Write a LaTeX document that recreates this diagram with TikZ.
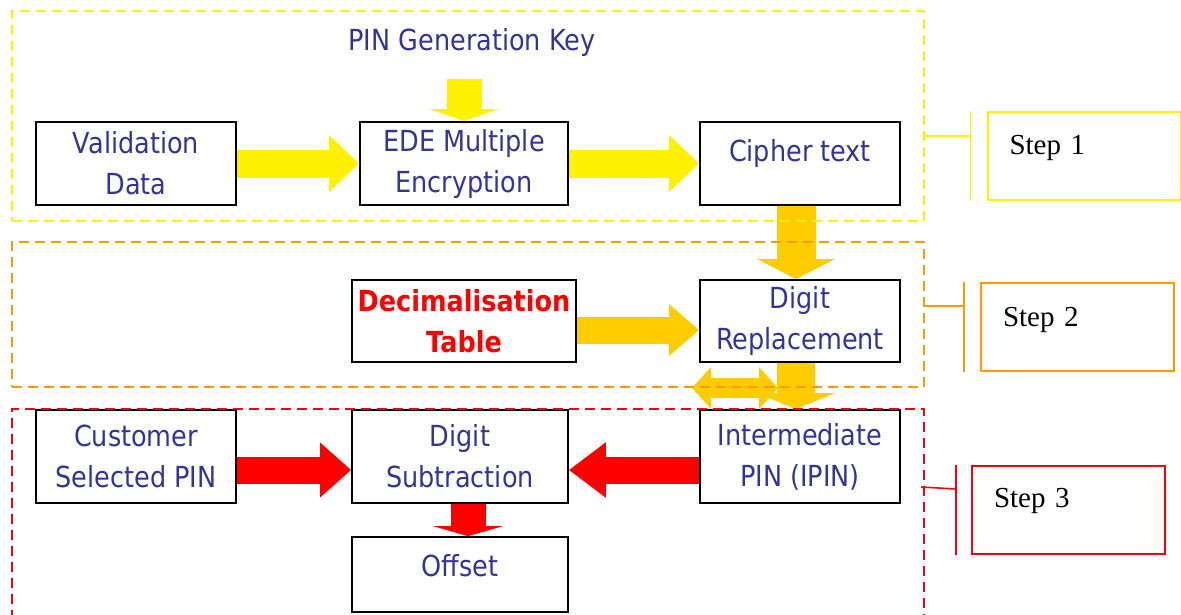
\documentclass[tikz,border=0pt]{standalone}
\usepackage{fontspec}
\setmainfont{Liberation Serif}
\newfontfamily\boxfont[FakeStretch=0.88]{DejaVu Sans}
\usetikzlibrary{arrows.meta}
\definecolor{boxblue}{RGB}{51,51,153}
\definecolor{gold}{RGB}{255,204,0}
\definecolor{orangeline}{RGB}{255,153,0}

\begin{document}
\begin{tikzpicture}[
    x=1pt, y=-1pt,
    font=\boxfont\fontsize{29}{41}\selectfont,
    box/.style={rectangle, draw, line width=1.8pt, text=boxblue, align=center, inner sep=0pt, minimum width=200pt},
    frame/.style={rectangle, draw=#1, line width=2.4pt, dash pattern=on 10pt off 6pt, inner sep=0pt, minimum width=912pt},
    steplabel/.style={rectangle, draw=#1, line width=2pt, inner sep=0pt, minimum width=193pt, minimum height=88pt,
        text width=149pt, align=left, font=\rmfamily\fontsize{29}{34}\selectfont},
    tick/.style={draw=#1, line width=1.6pt},
    fat/.style n args={4}{draw=#1, line width=#2, -{Triangle[length=#3, width=#4]}},
    dfat/.style n args={4}{draw=#1, line width=#2, {Triangle[length=#3, width=#4]}-{Triangle[length=#3, width=#4]}}
  ]
  \useasboundingbox (0,0) rectangle (1181,614);

  % step 1
  \node[text=boxblue] (key) at (472,42) {PIN Generation Key};
  \node[box, minimum height=83pt] (val) at (136,163.5) {Validation\\Data};
  \node[box, minimum width=208pt, minimum height=83pt] (ede) at (464,163.5) {EDE Multiple\\Encryption};
  \node[box, minimum height=83pt] (cipher) at (800,163.5) {\raisebox{27pt}{Cipher text}};
  \coordinate (keyin) at (464,79);

  % step 2
  \node[box, minimum width=224pt, minimum height=82pt, text=red, font=\boxfont\bfseries\fontsize{29}{41}\selectfont] (dec) at (464,321) {Decimalisation\\Table};
  \node[box, minimum height=82pt] (rep) at (800,321) {Digit\\Replacement};
  \coordinate (dbl1) at (692,388);
  \coordinate (dbl2) at (778,388);

  % step 3
  \node[box, minimum height=93pt] (cust) at (136,456.5) {Customer\\Selected PIN};
  \node[box, minimum width=216pt, minimum height=93pt] (sub) at (460,456.5) {Digit\\Subtraction};
  \node[box, minimum height=93pt] (ipin) at (800,456.5) {Intermediate\\PIN (IPIN)};
  \node[box, minimum width=216pt, minimum height=75pt] (offset) at (460,574.5) {\raisebox{19pt}{Offset}};

  \draw[fat={yellow}{35pt}{12pt}{68pt}] (keyin) -- (ede.north);
  \draw[fat={yellow}{28pt}{30pt}{55pt}] (val) -- (ede);
  \draw[fat={yellow}{28pt}{30pt}{55pt}] (ede) -- (cipher);
  \draw[fat={gold}{39pt}{20pt}{77pt}] ([xshift=-4pt]cipher.south) -- ([xshift=-4pt]rep.north);
  \draw[fat={gold}{27pt}{30pt}{50pt}] ([yshift=-9pt]dec.east) -- ([yshift=-9pt]rep.west);
  \draw[dfat={gold}{20pt}{19pt}{41pt}] (dbl1) -- (dbl2);
  \draw[fat={gold}{38pt}{16pt}{77pt}] ([xshift=-4pt]rep.south) -- ([xshift=-4pt]ipin.north);
  \draw[fat={red}{27pt}{31pt}{53pt}] ([yshift=-13.5pt]cust.east) -- ([yshift=-13.5pt]sub.west);
  \draw[fat={red}{27pt}{37pt}{53pt}] ([yshift=-13.5pt]ipin.west) -- ([yshift=-13.5pt]sub.east);
  \draw[fat={red}{35pt}{10pt}{70pt}] ([xshift=8pt]sub.south) -- ([xshift=8pt]offset.north);

  % frames and step labels
  \node[frame=yellow, minimum height=210pt] (frame1) at (468,116) {};
  \node[frame=orangeline, minimum height=145pt] (frame2) at (468,314.5) {};
  \node[frame=red, minimum height=231pt] (frame3) at (468,524.5) {};

  \node[steplabel=yellow] (step1) at (1084,156) {\raisebox{23pt}{Step 1}};
  \node[steplabel=orangeline] (step2) at (1077.5,327) {\raisebox{20pt}{Step 2}};
  \node[steplabel=red] (step3) at (1068.5,509.5) {\raisebox{24pt}{Step 3}};

  \draw[tick=yellow] ([xshift=-16pt]step1.north west) coordinate (t1) -- ([xshift=-16pt]step1.south west);
  \draw[tick=yellow] (frame1.east |- 0,136) -- (t1 |- 0,136);
  \draw[tick=orangeline] ([xshift=-16pt]step2.north west) coordinate (t2) -- ([xshift=-16pt]step2.south west);
  \draw[tick=orangeline] (frame2.east |- 0,306) -- (t2 |- 0,306);
  \draw[tick=red] ([xshift=-15pt]step3.north west) coordinate (t3) -- ([xshift=-15pt]step3.south west);
  \draw[tick=red] ([xshift=-4pt]frame3.east |- 0,487) -- (t3 |- 0,489);
\end{tikzpicture}
\end{document}
